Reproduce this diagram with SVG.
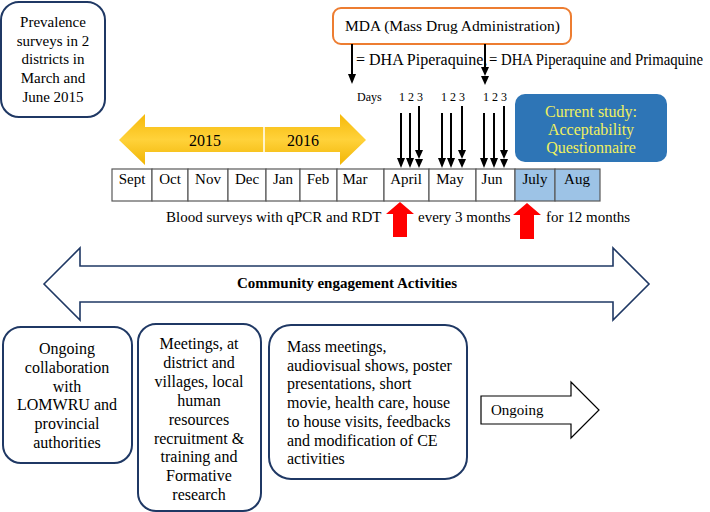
<svg xmlns="http://www.w3.org/2000/svg" width="710" height="512" viewBox="0 0 710 512">
<defs>
<linearGradient id="gold" x1="0" y1="0" x2="0" y2="1">
<stop offset="0" stop-color="#f6b90a"/>
<stop offset="0.5" stop-color="#ffd23a"/>
<stop offset="1" stop-color="#f1b505"/>
</linearGradient>
</defs>
<style>
text{fill:#000;font-family:'Liberation Serif','Times New Roman',serif}
.t15{font-size:15px}
.t16{font-size:16px}
.t12{font-size:12px}
.c{text-anchor:middle}
.nbox{fill:#fff;stroke:#1f3864;stroke-width:2}
.cell{fill:#fff;stroke:#595959;stroke-width:1.2}
.cellb{fill:#9dc3e6;stroke:#595959;stroke-width:1.2}
.arr{stroke:#000;stroke-width:2;fill:none}
.hd{fill:#000}
.red{fill:#ff0000}
</style>

<g id="prevalence">
<rect class="nbox" x="1" y="2" width="104" height="115" rx="18"/>
<text class="t15 c" x="53" y="27">Prevalence</text>
<text class="t15 c" x="53" y="46">surveys in 2</text>
<text class="t15 c" x="53" y="64">districts in</text>
<text class="t15 c" x="53" y="83">March and</text>
<text class="t15 c" x="53" y="102">June 2015</text>
</g>

<g id="mda">
<rect x="333" y="8" width="238" height="36" rx="8" fill="#fff" stroke="#ed7d31" stroke-width="2"/>
<text x="345" y="31" style="font-size:15.5px">MDA (Mass Drug Administration)</text>
</g>

<g id="legend">
<text class="t16" x="356" y="65">= DHA Piperaquine,</text>
<text class="t16" x="489" y="65" textLength="214" lengthAdjust="spacingAndGlyphs">= DHA Piperaquine and Primaquine</text>
<text class="t12" x="357" y="101">Days</text>
<text class="t12" x="399" y="101">1 2 3</text>
<text class="t12" x="441" y="101">1 2 3</text>
<text class="t12" x="483" y="101">1 2 3</text>
</g>

<g id="years">
<path d="M119,140 L145,114 L145,127 L340,127 L340,114 L366,140 L340,165 L340,152 L145,152 L145,165 Z" fill="url(#gold)"/>
<line x1="264" y1="127" x2="264" y2="152" stroke="#fff" stroke-width="1.5"/>
<text class="t16 c" x="205" y="146">2015</text>
<text class="t16 c" x="303" y="146">2016</text>
</g>

<g id="current-study">
<rect x="515" y="94" width="152" height="68" rx="10" fill="#2e75b6"/>
<text class="t16 c" x="591" y="117" style="fill:#f0f060">Current study:</text>
<text class="t16 c" x="591" y="135" style="fill:#f0f060">Acceptability</text>
<text class="t16 c" x="591" y="153" style="fill:#f0f060">Questionnaire</text>
</g>

<g id="months">
<rect class="cell" x="112" y="169" width="40" height="32"/>
<rect class="cell" x="152" y="169" width="36" height="32"/>
<rect class="cell" x="188" y="169" width="40" height="32"/>
<rect class="cell" x="228" y="169" width="38" height="32"/>
<rect class="cell" x="266" y="169" width="34" height="32"/>
<rect class="cell" x="300" y="169" width="37" height="32"/>
<rect class="cell" x="337" y="169" width="47" height="32"/>
<rect class="cell" x="384" y="169" width="45" height="32"/>
<rect class="cell" x="429" y="169" width="47" height="32"/>
<rect class="cell" x="476" y="169" width="39" height="32"/>
<rect class="cellb" x="515" y="169" width="40" height="32"/>
<rect class="cellb" x="555" y="169" width="45" height="32"/>
<text class="t15 c" x="132" y="184">Sept</text>
<text class="t15 c" x="170" y="184">Oct</text>
<text class="t15 c" x="208" y="184">Nov</text>
<text class="t15 c" x="247" y="184">Dec</text>
<text class="t15 c" x="283" y="184">Jan</text>
<text class="t15 c" x="318" y="184">Feb</text>
<text class="t15 c" x="355" y="184">Mar</text>
<text class="t15 c" x="406" y="184">April</text>
<text class="t15 c" x="450" y="184">May</text>
<text class="t15 c" x="492" y="184">Jun</text>
<text class="t15 c" x="535" y="184">July</text>
<text class="t15 c" x="577" y="184">Aug</text>
</g>

<g id="blood-surveys">
<text class="t15" x="166" y="222">Blood surveys with qPCR and RDT</text>
<text class="t15" x="418" y="222">every 3 months</text>
<text class="t15" x="546" y="222">for 12 months</text>
<path class="red" d="M400,202 L414,214 L407,214 L407,237 L393,237 L393,214 L386,214 Z"/>
<path class="red" d="M527,203 L541,215 L534,215 L534,239 L520,239 L520,215 L513,215 Z"/>
</g>

<g id="community">
<path d="M44,284 L80,248 L80,266 L613,266 L613,248 L649,284 L613,320 L613,302 L80,302 L80,320 Z" fill="#fff" stroke="#1f3864" stroke-width="1.6"/>
<text x="347" y="288" class="c" style="font-size:15px;font-weight:bold">Community engagement Activities</text>
</g>

<g id="collaboration">
<rect class="nbox" x="3" y="327" width="129" height="136" rx="18"/>
<text class="t16 c" x="67" y="354">Ongoing</text>
<text class="t16 c" x="67" y="373">collaboration</text>
<text class="t16 c" x="67" y="392">with</text>
<text class="t16 c" x="67" y="410">LOMWRU and</text>
<text class="t16 c" x="67" y="429">provincial</text>
<text class="t16 c" x="67" y="448">authorities</text>
</g>

<g id="meetings">
<rect class="nbox" x="138" y="324" width="123" height="187" rx="18"/>
<text class="t16 c" x="199" y="349">Meetings, at</text>
<text class="t16 c" x="199" y="368">district and</text>
<text class="t16 c" x="199" y="387">villages, local</text>
<text class="t16 c" x="199" y="406">human</text>
<text class="t16 c" x="199" y="425">resources</text>
<text class="t16 c" x="199" y="444">recruitment &amp;</text>
<text class="t16 c" x="199" y="462">training and</text>
<text class="t16 c" x="199" y="481">Formative</text>
<text class="t16 c" x="199" y="500">research</text>
</g>

<g id="mass-meetings">
<rect class="nbox" x="269" y="325" width="198" height="154" rx="22"/>
<text class="t16" x="287" y="352">Mass meetings,</text>
<text class="t16" x="287" y="371">audiovisual shows, poster</text>
<text class="t16" x="287" y="389">presentations, short</text>
<text class="t16" x="287" y="408">movie, health care, house</text>
<text class="t16" x="287" y="427">to house visits, feedbacks</text>
<text class="t16" x="287" y="446">and modification of CE</text>
<text class="t16" x="287" y="464">activities</text>
</g>

<g id="ongoing">
<path d="M481,396 L571,396 L571,382 L599,410 L571,438 L571,424 L481,424 Z" fill="#fff" stroke="#000" stroke-width="1.2"/>
<text class="t15" x="491" y="415">Ongoing</text>
</g>

<g id="connectors">
<line class="arr" x1="352" y1="44" x2="352" y2="74"/>
<path class="hd" d="M348,74 L356,74 L352,84 Z"/>
<line class="arr" x1="485" y1="44" x2="485" y2="68"/>
<path class="hd" d="M481,67 L489,67 L485,76 Z"/>
<path class="hd" d="M481,76 L489,76 L485,85 Z"/>

<line class="arr" x1="401" y1="113" x2="401" y2="158"/>
<path class="hd" d="M397,158 L405,158 L401,168 Z"/>
<line class="arr" x1="410" y1="113" x2="410" y2="158"/>
<path class="hd" d="M406,158 L414,158 L410,168 Z"/>
<line class="arr" x1="419" y1="106" x2="419" y2="151"/>
<path class="hd" d="M415,150 L423,150 L419,159 Z"/>
<path class="hd" d="M415,159 L423,159 L419,168 Z"/>

<line class="arr" x1="442" y1="113" x2="442" y2="158"/>
<path class="hd" d="M438,158 L446,158 L442,168 Z"/>
<line class="arr" x1="451" y1="113" x2="451" y2="158"/>
<path class="hd" d="M447,158 L455,158 L451,168 Z"/>
<line class="arr" x1="462" y1="106" x2="462" y2="151"/>
<path class="hd" d="M458,150 L466,150 L462,159 Z"/>
<path class="hd" d="M458,159 L466,159 L462,168 Z"/>

<line class="arr" x1="484" y1="113" x2="484" y2="158"/>
<path class="hd" d="M480,158 L488,158 L484,168 Z"/>
<line class="arr" x1="494" y1="113" x2="494" y2="158"/>
<path class="hd" d="M490,158 L498,158 L494,168 Z"/>
<line class="arr" x1="504" y1="106" x2="504" y2="151"/>
<path class="hd" d="M500,150 L508,150 L504,159 Z"/>
<path class="hd" d="M500,159 L508,159 L504,168 Z"/>
</g>
</svg>
